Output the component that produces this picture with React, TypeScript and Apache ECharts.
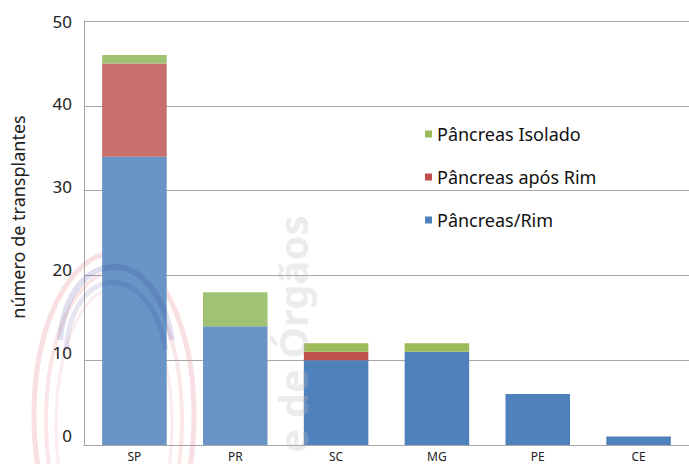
import React, { useEffect, useRef } from "react";
import * as echarts from "echarts";

const categories = ["SP", "PR", "SC", "MG", "PE", "CE"];
const pancreasRim = [34, 14, 10, 11, 6, 1];
const pancreasAposRim = [11, 0, 1, 0, 0, 0];
const pancreasIsolado = [1, 4, 1, 1, 0, 0];
const yTicks = [0, 10, 20, 30, 40, 50];

const seriesNames = ["Pâncreas/Rim", "Pâncreas após Rim", "Pâncreas Isolado"];
const baseColors = ["#4F81BD", "#C0504D", "#9BBB59"];
// first two categories are lightened by the watermark overlay in the reference
const lightColors = ["#6894C6", "#C86E6B", "#A0C272"];

export default function App() {
  const ref = useRef<HTMLDivElement>(null);
  useEffect(() => {
    document.body.style.margin = "0";
    const chart = echarts.init(ref.current!, null, { renderer: "svg" });
    const mk = (vals: number[], idx: number) => ({
      name: seriesNames[idx],
      type: "bar",
      stack: "total",
      barWidth: "64%",
      itemStyle: { color: baseColors[idx] },
      data: vals.map((v, i) => ({
        value: v === 0 ? null : v,
        itemStyle: { color: i < 2 ? lightColors[idx] : baseColors[idx] },
      })),
      z: 2,
    });
    const rich: any = {};
    yTicks.forEach((v) => {
      rich["a" + v] = {
        fontSize: 17,
        fontFamily: "Noto Sans",
        color: "#222",
        padding: [0, 0, ((50 - v) / 50) * 20, 0],
      };
    });
    chart.setOption({
      animation: false,
      backgroundColor: "#fff",
      grid: { left: 84, top: 21, width: 620, height: 424, containLabel: false },
      legend: {
        orient: "vertical",
        left: 420,
        top: 120,
        itemWidth: 7,
        itemHeight: 7,
        itemGap: 25,
        icon: "rect",
        data: ["Pâncreas Isolado", "Pâncreas após Rim", "Pâncreas/Rim"],
        textStyle: { fontSize: 18, fontFamily: "Noto Sans", color: "#111" },
      },
      xAxis: {
        type: "category",
        data: categories,
        axisLine: { lineStyle: { color: "#A6A6A6", width: 1 } },
        axisTick: { show: false },
        axisLabel: {
          fontSize: 12,
          fontFamily: "Noto Sans",
          color: "#222",
          margin: 5,
        },
      },
      yAxis: {
        type: "value",
        min: 0,
        max: 50,
        interval: 10,
        name: "número de transplantes",
        nameLocation: "middle",
        nameGap: 57,
        nameTextStyle: {
          fontSize: 18,
          fontFamily: "Noto Sans",
          color: "#222",
          padding: [0, 0, 0, 32],
        },
        axisLine: { show: true, lineStyle: { color: "#A6A6A6", width: 1 } },
        axisTick: { show: false },
        splitLine: { lineStyle: { color: "#A6A6A6", width: 1 } },
        axisLabel: {
          margin: 12,
          formatter: (v: number) => `{a${v}|${v}}`,
          rich,
        },
      },
      graphic: [
        {
          type: "ellipse",
          shape: { cx: 114, cy: 415, rx: 80, ry: 162 },
          style: { fill: "none", stroke: "rgba(225,110,120,0.22)", lineWidth: 5 },
          z: 0,
          silent: true,
        },
        {
          type: "ellipse",
          shape: { cx: 114, cy: 420, rx: 68, ry: 148 },
          style: { fill: "none", stroke: "rgba(225,110,120,0.18)", lineWidth: 4 },
          z: 0,
          silent: true,
        },
        {
          type: "ellipse",
          shape: { cx: 114, cy: 425, rx: 58, ry: 136 },
          style: { fill: "none", stroke: "rgba(225,110,120,0.12)", lineWidth: 3 },
          z: 0,
          silent: true,
        },
        {
          type: "bezierCurve",
          shape: { x1: 60, y1: 340, cpx1: 68, cpy1: 245, cpx2: 155, cpy2: 240, x2: 172, y2: 340 },
          style: { fill: "none", stroke: "rgba(40,50,150,0.15)", lineWidth: 6 },
          z: 10,
          silent: true,
        },
        {
          type: "bezierCurve",
          shape: { x1: 66, y1: 350, cpx1: 72, cpy1: 262, cpx2: 150, cpy2: 258, x2: 166, y2: 350 },
          style: { fill: "none", stroke: "rgba(40,50,150,0.12)", lineWidth: 5 },
          z: 10,
          silent: true,
        },
        {
          type: "text",
          x: 292,
          y: 334,
          rotation: Math.PI / 2,
          style: {
            text: "e de Órgãos",
            fontSize: 40,
            fontWeight: "bold",
            fontFamily: "Noto Sans",
            fill: "rgba(190,190,190,0.3)",
            align: "center",
            verticalAlign: "middle",
          },
          z: 10,
          silent: true,
        },
      ],
      series: [
        mk(pancreasRim, 0),
        mk(pancreasAposRim, 1),
        mk(pancreasIsolado, 2),
      ],
    });
    return () => chart.dispose();
  }, []);
  return (
    <div
      ref={ref}
      style={{ position: "absolute", left: 0, top: 0, width: 689, height: 464 }}
    />
  );
}
